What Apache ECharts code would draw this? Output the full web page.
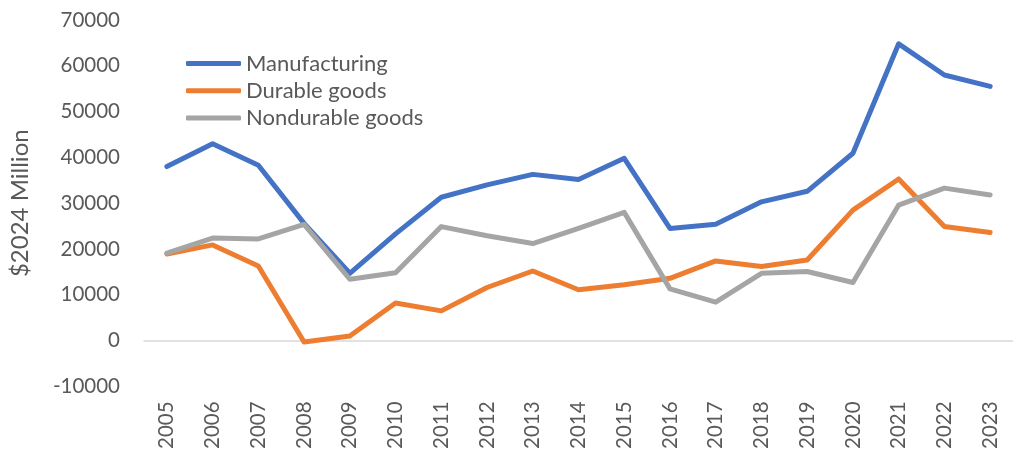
<!DOCTYPE html>
<html>
<head>
<meta charset="utf-8">
<script src="https://cdn.jsdelivr.net/npm/echarts@6/dist/echarts.min.js"></script>
<style>html,body{margin:0;padding:0;background:#fff}#c{width:1013px;height:452px}</style>
</head>
<body>
<div id="c"></div>
<script>
const years = ['2005','2006','2007','2008','2009','2010','2011','2012','2013','2014','2015','2016','2017','2018','2019','2020','2021','2022','2023'];
const manufacturing = [38000,43000,38300,25600,14700,23300,31300,34000,36300,35200,39800,24500,25400,30300,32600,40900,64800,58000,55500];
const durableGoods = [18900,20900,16300,-300,1000,8200,6500,11600,15200,11100,12200,13600,17400,16200,17600,28500,35300,24900,23600];
const nondurableGoods = [19100,22400,22200,25400,13400,14800,24900,22900,21200,24500,28000,11300,8400,14700,15100,12700,29600,33300,31800];
const yTicks = {min:-10000, max:70000, interval:10000};

const font = 'Lato, "Open Sans", sans-serif';
const chart = echarts.init(document.getElementById('c'));
const mk = (name, data, color) => ({
  name, type:'line', data, symbol:'none', smooth:false,
  lineStyle:{width:5, color, cap:'round', join:'round'},
  itemStyle:{color}
});
chart.setOption({
  animation:false,
  grid:{left:137, top:20, width:889, height:366.7, containLabel:false},
  legend:{
    orient:'vertical', left:181, top:47.5, itemGap:5.2,
    itemWidth:55, itemHeight:5, icon:'roundRect',
    textStyle:{fontFamily:font, fontSize:22, color:'#595959', lineHeight:22},
    data:['Manufacturing','Durable goods','Nondurable goods']
  },
  xAxis:{
    type:'category', data:years, boundaryGap:true,
    axisLine:{lineStyle:{color:'#D9D9D9', width:1.5}},
    axisTick:{show:false},
    axisLabel:{rotate:90, margin:15, fontFamily:font, fontSize:20.5, color:'#595959'}
  },
  yAxis:{
    type:'value', min:yTicks.min, max:yTicks.max, interval:yTicks.interval,
    name:'$2024 Million', nameLocation:'middle', nameGap:112, nameRotate:90,
    nameMoveOverlap:false,
    nameTextStyle:{fontFamily:font, fontSize:24, color:'#595959'},
    axisLine:{show:false}, axisTick:{show:false},
    splitLine:{show:false},
    axisLabel:{margin:24, fontFamily:font, fontSize:20.5, color:'#595959', formatter:v => String(v)}
  },
  series:[
    mk('Manufacturing', manufacturing, '#4472C4'),
    mk('Durable goods', durableGoods, '#ED7D31'),
    mk('Nondurable goods', nondurableGoods, '#A5A5A5')
  ]
});
</script>
</body>
</html>
